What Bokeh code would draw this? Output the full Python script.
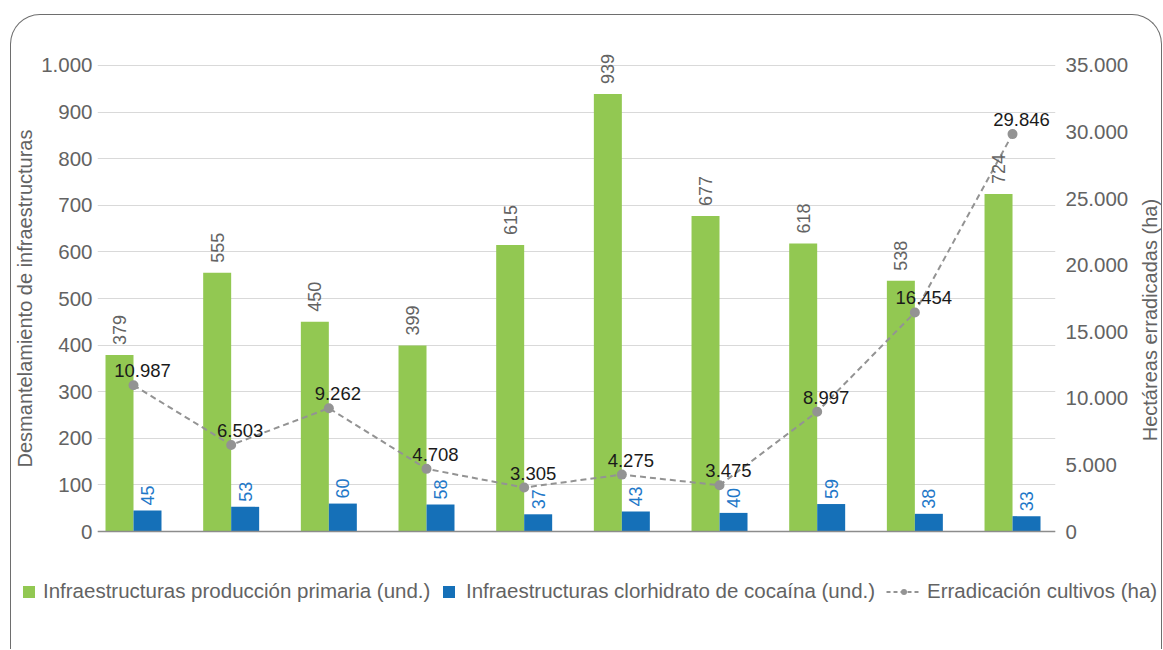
import math
from bokeh.plotting import figure
from bokeh.layouts import column, row
from bokeh.models import (ColumnDataSource, Range1d, LinearAxis, FixedTicker,
                          LabelSet, Legend, LegendItem, Span)
from bokeh.transform import dodge
from bokeh.embed import file_html
from bokeh.resources import INLINE
from bokeh.core.properties import value

# ---------------- data ----------------
positions = list(range(10))
primaria = [379, 555, 450, 399, 615, 939, 677, 618, 538, 724]
clorhidrato = [45, 53, 60, 58, 37, 43, 40, 59, 38, 33]
erradicacion = [10987, 6503, 9262, 4708, 3305, 4275, 3475, 8997, 16454, 29846]

left_ticks = [0, 100, 200, 300, 400, 500, 600, 700, 800, 900, 1000]
left_tick_labels = ["0", "100", "200", "300", "400", "500", "600", "700", "800", "900", "1.000"]
right_ticks = [0, 5000, 10000, 15000, 20000, 25000, 30000, 35000]
right_tick_labels = ["0", "5.000", "10.000", "15.000", "20.000", "25.000", "30.000", "35.000"]

legend_labels = ["Infraestructuras producción primaria (und.)",
                 "Infraestructuras clorhidrato de cocaína (und.)",
                 "Erradicación cultivos (ha)"]
left_title = "Desmantelamiento de infraestructuras"
right_title = "Hectáreas erradicadas (ha)"


def fmt(v):
    return f"{v:,}".replace(",", ".")


src = ColumnDataSource(dict(
    x=positions,
    prim=primaria,
    clor=clorhidrato,
    err=erradicacion,
    prim_txt=[str(v) for v in primaria],
    clor_txt=[str(v) for v in clorhidrato],
    err_txt=[fmt(v) for v in erradicacion],
))

FONT = "Liberation Sans"
GREEN = "#92c852"
BLUE = "#1570b8"
GRAY_LINE = "#939393"
TXT = "#636363"

W_MAIN, W_TITLE, H_MAIN, H_LEG = 1120, 30, 544, 90

# ---------------- main chart ----------------
p = figure(width=W_MAIN, height=H_MAIN,
           x_range=Range1d(-0.3686, 9.44), y_range=Range1d(-60, 1060),
           output_backend="svg", toolbar_location=None,
           min_border_left=86, min_border_right=71,
           min_border_top=22, min_border_bottom=0,
           x_axis_location=None)
p.outline_line_color = None
p.background_fill_color = None
p.border_fill_color = None
p.extra_y_ranges = {"right": Range1d(-60 * 35, 1060 * 35)}

# bars
r_prim = p.vbar(x=dodge("x", -0.1433), top="prim", width=0.2866, source=src,
                fill_color=GREEN, line_color=None)
r_clor = p.vbar(x=dodge("x", 0.1433), top="clor", width=0.2866, source=src,
                fill_color=BLUE, line_color=None)

# baseline (category axis line)
p.add_layout(Span(location=0, dimension="width", line_color="#8c8c8c", line_width=1.5))

# line
r_line = p.line(x="x", y="err", source=src, y_range_name="right",
                line_color=GRAY_LINE, line_width=2, line_dash="6 4")
r_pts = p.scatter(x="x", y="err", source=src, y_range_name="right",
                  size=10, fill_color=GRAY_LINE, line_color=None)

# labels
p.add_layout(LabelSet(x=dodge("x", -0.1433), y="prim", text="prim_txt", source=src,
                      angle=math.pi / 2, text_align="left", text_baseline="middle",
                      y_offset=10, text_font=value(FONT), text_font_size="18px",
                      text_color=TXT))
p.add_layout(LabelSet(x=dodge("x", 0.1433), y="clor", text="clor_txt", source=src,
                      angle=math.pi / 2, text_align="left", text_baseline="middle",
                      y_offset=5, text_font=value(FONT), text_font_size="18px",
                      text_color="#1f78c8"))
p.add_layout(LabelSet(x="x", y="err", text="err_txt", source=src, y_range_name="right",
                      text_align="center", text_baseline="bottom",
                      x_offset=9, y_offset=8, text_font=value(FONT), text_font_size="18.5px",
                      text_color="#1a1a1a"))

# grid / axes
p.xgrid.grid_line_color = None
p.ygrid.ticker = FixedTicker(ticks=left_ticks)
p.ygrid.grid_line_color = "#d9d9d9"
p.ygrid.grid_line_width = 1.2

ya = p.yaxis[0]
ya.ticker = FixedTicker(ticks=left_ticks)
ya.major_label_overrides = dict(zip(left_ticks, left_tick_labels))
ya.axis_label = left_title

yr = LinearAxis(y_range_name="right")
yr.ticker = FixedTicker(ticks=right_ticks)
yr.major_label_overrides = dict(zip(right_ticks, right_tick_labels))
p.add_layout(yr, "right")

for ax, st in ((ya, 5), (yr, 10)):
    ax.axis_line_color = None
    ax.major_tick_line_color = None
    ax.minor_tick_line_color = None
    ax.major_tick_out = 0
    ax.major_tick_in = 0
    ax.minor_tick_out = 0
    ax.major_label_standoff = st
    ax.major_label_text_font = FONT
    ax.major_label_text_font_size = "20.5px"
    ax.major_label_text_color = TXT
ya.axis_label_standoff = 2
ya.axis_label_text_font = FONT
ya.axis_label_text_font_size = "20px"
ya.axis_label_text_font_style = "normal"
ya.axis_label_text_color = TXT

# ---------------- right axis title (reads bottom to top) ----------------
t = figure(width=W_TITLE, height=H_MAIN, x_range=Range1d(0, W_TITLE), y_range=Range1d(0, H_MAIN),
           output_backend="svg", toolbar_location=None, min_border=0,
           x_axis_location=None, y_axis_location=None)
t.outline_line_color = None
t.background_fill_color = None
t.border_fill_color = None
t.grid.grid_line_color = None
t.text(x=[18.5], y=[H_MAIN - 294.5], text=[right_title], angle=math.pi / 2,
       text_align="center", text_baseline="middle", text_font=value(FONT),
       text_font_size="20px", text_color=TXT)

# ---------------- legend strip ----------------
lg = figure(width=W_MAIN + W_TITLE, height=H_LEG, x_range=Range1d(0, 1), y_range=Range1d(0, 1),
            output_backend="svg", toolbar_location=None, min_border=0,
            x_axis_location=None, y_axis_location=None)
lg.outline_line_color = None
lg.background_fill_color = None
lg.border_fill_color = None
lg.grid.grid_line_color = None
# legend proxies kept outside the visible range of this strip
k_prim = lg.vbar(x=[-5], top=[-5], width=0.1, fill_color=GREEN, line_color=None)
k_clor = lg.vbar(x=[-5], top=[-5], width=0.1, fill_color=BLUE, line_color=None)
k_line = lg.line(x=[-5, -6], y=[-5, -6], line_color=GRAY_LINE, line_width=2, line_dash="4 3")
k_pts = lg.scatter(x=[-5], y=[-5], size=8, fill_color=GRAY_LINE, line_color=None)


def add_legend(label, renderers, x, gw, standoff):
    leg = Legend(items=[LegendItem(label=label, renderers=renderers)],
                 location=(x, 46), orientation="horizontal",
                 padding=0, margin=0, border_line_color=None,
                 background_fill_alpha=0, glyph_width=gw, glyph_height=15,
                 label_standoff=standoff, label_text_font=FONT,
                 label_text_font_size="20.5px", label_text_color=TXT)
    lg.add_layout(leg)


add_legend(legend_labels[0], [k_prim], 10, 15, 7)
add_legend(legend_labels[1], [k_clor], 430, 15, 10)
add_legend(legend_labels[2], [k_line, k_pts], 875, 35, 6)

layout = column(row(p, t), lg)
layout.styles = {"border-top": "1.5px solid #6e6e6e",
                 "border-left": "1.5px solid #6e6e6e",
                 "border-right": "1.5px solid #6e6e6e",
                 "border-top-left-radius": "30px",
                 "border-top-right-radius": "30px",
                 "margin-top": "14px", "margin-left": "10px"}

open("out.html", "w").write(file_html(layout, INLINE))
